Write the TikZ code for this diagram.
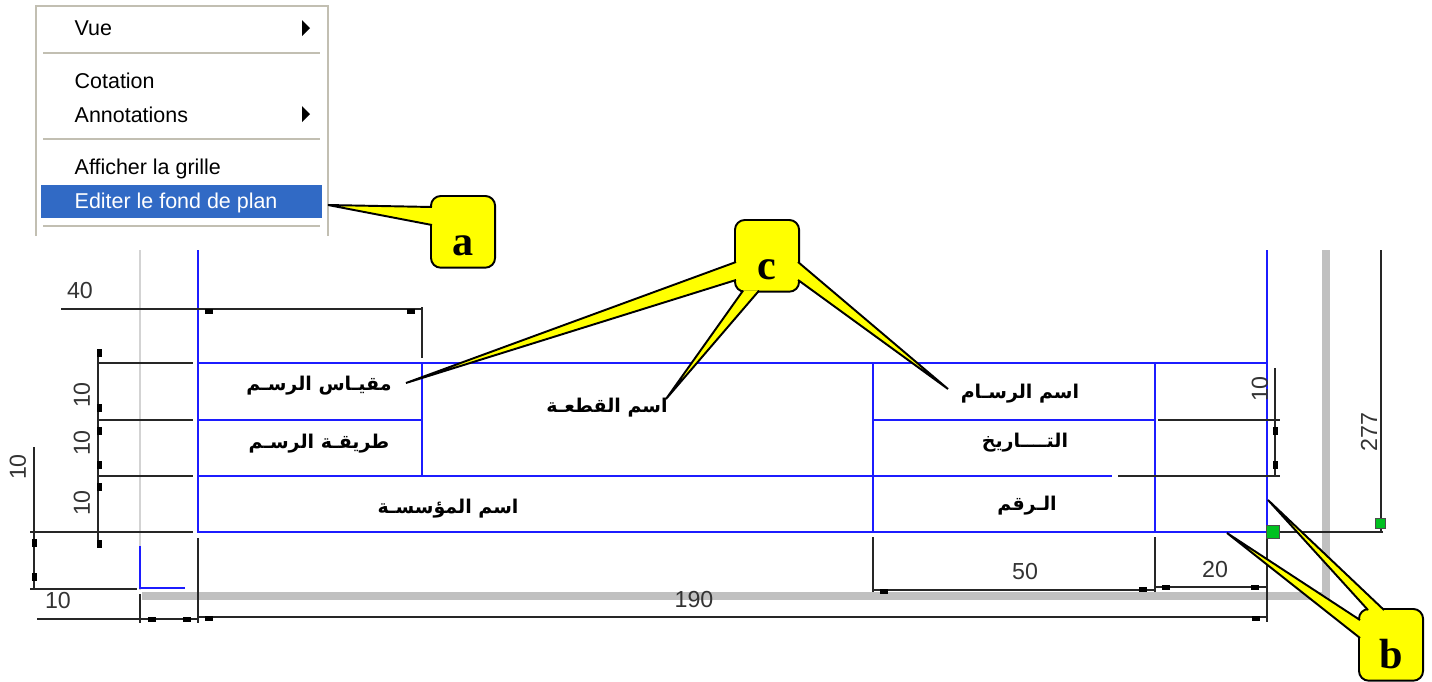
\documentclass[tikz,border=0pt]{standalone}
\usepackage{fontspec}
\setmainfont{Liberation Sans}
\newfontfamily\arabicfont[Script=Arabic]{DejaVu Sans}
\newfontfamily\letterfont{Liberation Serif}
\TeXXeTstate=1
\usepackage{tikz}
\usetikzlibrary{calc}
\usetikzlibrary{positioning}

\definecolor{menugray}{HTML}{C2BFB2}
\definecolor{menublue}{HTML}{316AC5}
\definecolor{planblue}{HTML}{1C1CFF}
\definecolor{plangray}{HTML}{C0C0C0}
\definecolor{handlegreen}{HTML}{00C020}
\definecolor{callyellow}{RGB}{255,255,0}

\tikzset{
  planline/.style={planblue, line width=0.55pt},
  dimline/.style={black!85, line width=0.45pt},
  menuline/.style={menugray, line width=0.55pt},
  menutext/.style={anchor=base west, inner sep=0pt, font=\fontsize{6.1}{7}\selectfont},
  dimtext/.style={inner sep=0pt, black!80, font=\fontsize{6.6}{8}\selectfont},
  titletext/.style={inner sep=0pt, font=\fontsize{5.4}{7}\arabicfont\bfseries},
  callbox/.style={draw=black, fill=callyellow, line width=0.55pt, rounded corners=2.8pt, minimum width=1.78cm*0.36,
    inner xsep=0pt, inner ysep=3.4pt, text height=13.6pt, text depth=0pt, font=\fontsize{12}{12}\letterfont\bfseries},
  pointer/.style={draw=black, fill=callyellow, line width=0.55pt, line join=miter},
  handle/.style={fill=handlegreen, draw=black!70, line width=0.2pt}
}

\begin{document}
\begin{tikzpicture}[x=0.01cm, y=-0.01cm]
\useasboundingbox (0,0) rectangle (1432,681);

% context menu
\fill[menublue] (41,185) rectangle (322,218);
\draw[menuline] (36,236) -- (36,6) -- (328,6) -- (328,236);
\draw[menuline] (43,53) -- (320,53);
\draw[menuline] (43,139) -- (320,139);
\draw[menuline] (43,226) -- (320,226);
\node[menutext] (vue) at (74,35) {Vue};
\node[menutext] (cotation) at (74,88) {Cotation};
\node[menutext] (annotations) at (74,122) {Annotations};
\node[menutext] (grille) at (74,174) {Afficher la grille};
\node[menutext, white] (editer) at (74,208) {Editer le fond de plan};
\fill (302,20) -- (310,28) -- (302,36) -- cycle;
\fill (302,106) -- (310,114) -- (302,122) -- cycle;

% sheet edges
\draw[plangray!70, line width=0.45pt] (140,250) -- (140,590);
\draw[plangray, line width=2pt] (1326,250) -- (1326,596) -- (142,596);
\draw[planblue, line width=0.45pt] (140,546) -- (140,588) -- (185,588);

% title block
\draw[planline] (198,250) -- (198,532) -- (1267,532) -- (1267,250);
\draw[planline] (198,363) -- (1267,363);
\draw[planline] (198,420) -- (422,420);
\draw[planline] (873,420) -- (1155,420);
\draw[planline] (198,476) -- (1112,476);
\draw[planline] (422,363) -- (422,476);
\draw[planline] (873,363) -- (873,532);
\draw[planline] (1155,363) -- (1155,532);

% dimensions
\draw[dimline] (61,309) -- (422,309);
\draw[dimline] (422,307) -- (422,358);
\draw[dimline] (97,363) -- (193,363);
\draw[dimline] (97,420) -- (193,420);
\draw[dimline] (97,476) -- (193,476);
\draw[dimline] (30,532) -- (193,532);
\draw[dimline] (98,349) -- (98,547);
\draw[dimline] (34,447) -- (34,589);
\draw[dimline] (30,589) -- (137,589);
\draw[dimline] (37,619) -- (198,619);
\draw[dimline] (140,594) -- (140,623);
\draw[dimline] (198,538) -- (198,623);
\draw[dimline] (198,617) -- (1267,617);
\draw[dimline] (1267,532) -- (1267,622);
\draw[dimline] (873,537) -- (873,592);
\draw[dimline] (1155,537) -- (1155,592);
\draw[dimline] (873,590) -- (1155,590);
\draw[dimline] (1155,587) -- (1267,587);
\draw[dimline] (1158,420) -- (1280,420);
\draw[dimline] (1118,476) -- (1280,476);
\draw[dimline] (1275,368) -- (1275,476);
\draw[dimline] (1381,250) -- (1381,532);
\draw[dimline] (1280,532) -- (1383,532);

% arrow heads of the dimensions
\foreach \mx/\my in {209/311, 411/311, 209/618, 1256/618, 884/591, 1143/589, 152/619, 187/619, 1166/587, 1255/587}
  \fill (\mx-4,\my-2.5) rectangle (\mx+4,\my+2.5);
\foreach \mx/\my in {99/353, 99/408, 99/431, 99/465, 99/487, 99/544, 34/543, 34/577, 1275/431, 1275/465}
  \fill (\mx-2.5,\my-4) rectangle (\mx+2.5,\my+4);

\node[dimtext] (dimforty) at (80,291) {40};
\node[dimtext, rotate=90] (dimscale) at (82,395) {10};
\node[dimtext, rotate=90] (dimmethod) at (82,443) {10};
\node[dimtext, rotate=90] (dimfirm) at (82,503) {10};
\node[dimtext, rotate=90] (dimbottom) at (18,467) {10};
\node[dimtext] (dimleft) at (58,601) {10};
\node[dimtext] (dimwidth) at (694,599) {190};
\node[dimtext] (dimfifty) at (1025,572) {50};
\node[dimtext] (dimtwenty) at (1215,569) {20};
\node[dimtext, rotate=90] (dimright) at (1260,389) {10};
\node[dimtext, rotate=90] (dimheight) at (1369,432) {277};

\draw[handle] (1266.5,525.5) rectangle (1279.5,538.5);
\draw[handle] (1375,518) rectangle (1385,528);

% title block texts
\node[titletext] (scale) at (319,386) {\beginR مقيـاس الرسـم\endR};
\node[titletext] (method) at (319,444) {\beginR طريقـة الرسـم\endR};
\node[titletext] (firm) at (448,509) {\beginR اسم المؤسسـة\endR};
\node[titletext] (part) at (607,408) {\beginR اسم القطعـة\endR};
\node[titletext] (drawer) at (1020,394) {\beginR اسم الرسـام\endR};
\node[titletext] (date) at (1025,443) {\beginR التــــاريخ\endR};
\node[titletext] (number) at (1027,506) {\beginR الـرقم\endR};

% callouts
\coordinate (tipa) at (328,205);
\coordinate (tipscale) at (406,383);
\coordinate (tippart) at (666,399);
\coordinate (tipdrawer) at (948,389);
\coordinate (tipedge) at (1268,500);
\coordinate (tipbottom) at (1227,533);

\node[callbox, anchor=north west] (calla) at (430,195) {a};
\node[callbox, anchor=north west] (callc) at (734,219) {c};
\node[callbox, anchor=north west] (callb) at (1358,608) {b};

\draw[pointer] ($(calla.north west)+(2,12)$) -- (tipa) -- ($(calla.north west)+(2,30)$);
\draw[pointer] ($(callc.north west)+(2,43)$) -- (tipscale) -- ($(callc.north west)+(2,61)$);
\draw[pointer] ($(callc.south west)+(9,-2)$) -- (tippart) -- ($(callc.south west)+(25,-2)$);
\draw[pointer] ($(callc.north east)+(-2,43)$) -- (tipdrawer) -- ($(callc.north east)+(-2,61)$);
\draw[pointer] ($(callb.north west)+(10,2)$) -- (tipedge) -- ($(callb.north west)+(26,2)$);
\draw[pointer] ($(callb.north west)+(2,12)$) -- (tipbottom) -- ($(callb.north west)+(2,30)$);

\end{tikzpicture}
\end{document}
